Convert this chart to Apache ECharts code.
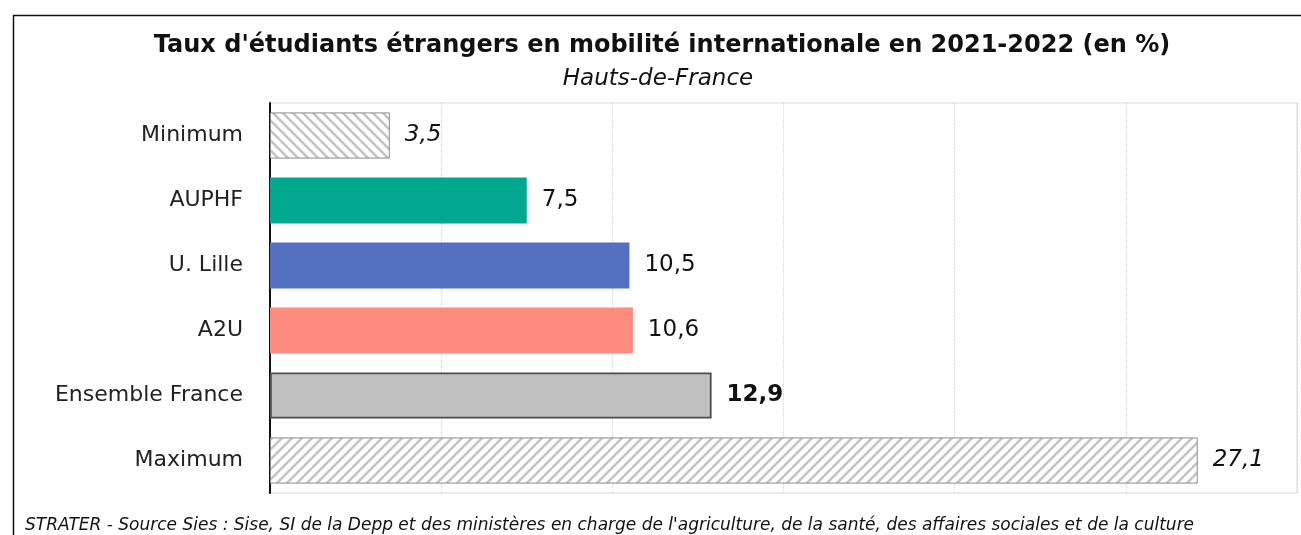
<!DOCTYPE html>
<html>
<head>
<meta charset="utf-8">
<script src="https://cdn.jsdelivr.net/npm/echarts@6/dist/echarts.min.js"></script>
<style>
  html, body { margin: 0; padding: 0; background: #fff; }
  #chart { width: 1301px; height: 535px; }
</style>
</head>
<body>
<div id="chart"></div>
<script>
var categories = ['Minimum', 'AUPHF', 'U. Lille', 'A2U', 'Ensemble France', 'Maximum']
var values = [3.5, 7.5, 10.5, 10.6, 12.9, 27.1]
var labels = ['3,5', '7,5', '10,5', '10,6', '12,9', '27,1']

var FONT = 'DejaVu Sans'

// hachures pour min / max
function hatch (dir) {
  var c = document.createElement('canvas')
  c.width = 10
  c.height = 10
  var ctx = c.getContext('2d')
  ctx.fillStyle = '#fff'
  ctx.fillRect(0, 0, 10, 10)
  ctx.strokeStyle = '#c4c4c4'
  ctx.lineWidth = 2.6
  ctx.beginPath()
  if (dir > 0) {
    ctx.moveTo(-5, 15); ctx.lineTo(15, -5)
    ctx.moveTo(-5, 5); ctx.lineTo(5, -5)
    ctx.moveTo(5, 15); ctx.lineTo(15, 5)
  } else {
    ctx.moveTo(-5, -5); ctx.lineTo(15, 15)
    ctx.moveTo(-5, 5); ctx.lineTo(5, 15)
    ctx.moveTo(5, -5); ctx.lineTo(15, 5)
  }
  ctx.stroke()
  return c
}

var styles = [
  { color: { image: hatch(-1), repeat: 'repeat' }, borderColor: '#8c8c8c', borderWidth: 1 },
  { color: '#00a88f' },
  { color: '#5470c0' },
  { color: '#ff8b7f' },
  { color: '#c0c0c0', borderColor: '#4d4d4d', borderWidth: 1.8 },
  { color: { image: hatch(1), repeat: 'repeat' }, borderColor: '#8c8c8c', borderWidth: 1 }
]

var labelFmt = [
  { fontStyle: 'italic' },
  {},
  {},
  {},
  { fontWeight: 'bold' },
  { fontStyle: 'italic' }
]

var seriesData = values.map(function (v, i) {
  return {
    value: v,
    itemStyle: styles[i],
    label: Object.assign({ formatter: labels[i] }, labelFmt[i])
  }
})

var myChart = echarts.init(document.getElementById('chart'))
var option = {
  animation: false,
  textStyle: { fontFamily: FONT },
  title: [
    {
      text: "Taux d'étudiants étrangers en mobilité internationale en 2021-2022 (en %)",
      left: 657,
      textAlign: 'center',
      top: 29,
      textStyle: { fontSize: 24, fontWeight: 'bold', color: '#111', fontFamily: FONT }
    },
    {
      text: 'Hauts-de-France',
      left: 653,
      textAlign: 'center',
      top: 63,
      textStyle: { fontSize: 23, fontStyle: 'italic', fontWeight: 'normal', color: '#111', fontFamily: FONT }
    },
    {
      text: "STRATER - Source Sies : Sise, SI de la Depp et des ministères en charge de l'agriculture, de la santé, des affaires sociales et de la culture",
      left: 20,
      top: 512,
      textStyle: { fontSize: 17, fontStyle: 'italic', fontWeight: 'normal', color: '#111', fontFamily: FONT }
    }
  ],
  graphic: [
    {
      type: 'rect',
      shape: { x: 13.5, y: 15.5, width: 1300, height: 540 },
      style: { fill: 'none', stroke: '#111', lineWidth: 1.5 },
      silent: true
    }
  ],
  grid: {
    left: 270,
    right: 4,
    top: 103,
    bottom: 42,
    show: true,
    borderColor: '#d9d9d9',
    borderWidth: 1
  },
  xAxis: {
    type: 'value',
    min: 0,
    max: 30,
    interval: 5,
    axisLabel: { show: false },
    axisTick: { show: false },
    axisLine: { show: false },
    splitLine: { lineStyle: { color: '#d4d4d4', type: 'dotted', width: 1.2 } }
  },
  yAxis: {
    type: 'category',
    inverse: true,
    data: categories,
    axisTick: { show: false },
    axisLine: { lineStyle: { color: '#111', width: 2 } },
    axisLabel: { fontSize: 22, color: '#222', margin: 27, fontFamily: FONT }
  },
  series: [
    {
      type: 'bar',
      data: seriesData,
      barCategoryGap: '29%',
      label: {
        show: true,
        position: 'right',
        distance: 15,
        fontSize: 23,
        color: '#111',
        fontFamily: FONT
      }
    }
  ]
}
option && myChart.setOption(option)
</script>
</body>
</html>
